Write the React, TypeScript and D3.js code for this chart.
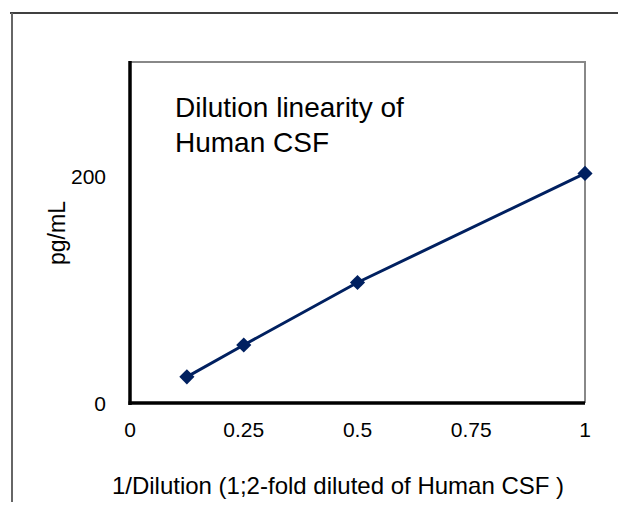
import React, { useRef, useEffect } from 'react';
import * as d3 from 'd3';

const dilution = [0.125, 0.25, 0.5, 1];
const pgPerMl = [23, 51, 106, 202];
const xTicks = [0, 0.25, 0.5, 0.75, 1];
const xTickLabels = ['0', '0.25', '0.5', '0.75', '1'];
const yTicks = [0, 200];
const titleLines = ['Dilution linearity of', 'Human CSF'];

const App = () => {
  const svgRef = useRef<SVGSVGElement>(null);

  useEffect(() => {
    const width = 626;
    const height = 510;
    const font = 'Liberation Sans, Arial, sans-serif';
    const svg = d3.select(svgRef.current)
      .attr('width', width)
      .attr('height', height)
      .style('font-family', font);

    svg.selectAll('*').remove();

    // outer frame
    svg.append('rect').attr('width', width).attr('height', height).attr('fill', '#fff');
    svg.append('line')
      .attr('x1', 10).attr('x2', width).attr('y1', 13).attr('y2', 13)
      .attr('stroke', '#000').attr('stroke-width', 1.5);
    svg.append('line')
      .attr('x1', 12).attr('x2', 12).attr('y1', 13).attr('y2', height)
      .attr('stroke', '#666').attr('stroke-width', 2);

    const x = d3.scaleLinear().domain([0, 1]).range([130, 585]);
    const y = d3.scaleLinear().domain([0, 300]).range([403, 62]);

    // top and right borders (grey)
    svg.append('path')
      .attr('d', `M${x(0)},${y(300)}H${x(1)}V${y(0)}`)
      .attr('fill', 'none').attr('stroke', '#888').attr('stroke-width', 2);

    // axes (thick black)
    svg.append('line')
      .attr('x1', x(0)).attr('x2', x(0)).attr('y1', y(300) - 1).attr('y2', y(0) + 2)
      .attr('stroke', '#000').attr('stroke-width', 3.5);
    svg.append('line')
      .attr('x1', x(0) - 1.5).attr('x2', x(1)).attr('y1', y(0)).attr('y2', y(0))
      .attr('stroke', '#000').attr('stroke-width', 3.5);

    // tick labels
    svg.append('g').selectAll('text')
      .data(xTicks)
      .join('text')
      .attr('x', d => x(d))
      .attr('y', 437)
      .attr('text-anchor', 'middle')
      .style('font-size', '21px')
      .text((d, i) => xTickLabels[i]);

    svg.append('g').selectAll('text')
      .data(yTicks)
      .join('text')
      .attr('x', 106)
      .attr('y', d => y(d) + 8)
      .attr('text-anchor', 'end')
      .style('font-size', '21px')
      .text(d => d);

    // axis titles
    svg.append('text')
      .attr('transform', `translate(65,233) rotate(-90)`)
      .attr('text-anchor', 'middle')
      .style('font-size', '23px')
      .text('pg/mL');

    svg.append('text')
      .attr('x', 338)
      .attr('y', 494)
      .attr('text-anchor', 'middle')
      .style('font-size', '24px')
      .text('1/Dilution (1;2-fold diluted of Human CSF )');

    // chart title
    svg.append('text')
      .attr('x', 175)
      .attr('y', 117)
      .style('font-size', '28px')
      .selectAll('tspan')
      .data(titleLines)
      .join('tspan')
      .attr('x', 175)
      .attr('dy', (d, i) => (i === 0 ? 0 : 35))
      .text(d => d);

    // series
    const points = dilution.map((d, i) => [d, pgPerMl[i]] as [number, number]);
    const line = d3.line<[number, number]>().x(d => x(d[0])).y(d => y(d[1]));
    svg.append('path')
      .datum(points)
      .attr('d', line)
      .attr('fill', 'none')
      .attr('stroke', '#002060')
      .attr('stroke-width', 3);

    const diamond = d3.symbol().type(d3.symbolSquare).size(115);
    svg.append('g').selectAll('path')
      .data(points)
      .join('path')
      .attr('transform', d => `translate(${x(d[0])},${y(d[1])}) rotate(45)`)
      .attr('d', diamond)
      .attr('fill', '#002060');
  }, []);

  return <svg ref={svgRef} style={{ display: 'block', margin: -8 }} />;
};

export default App;
